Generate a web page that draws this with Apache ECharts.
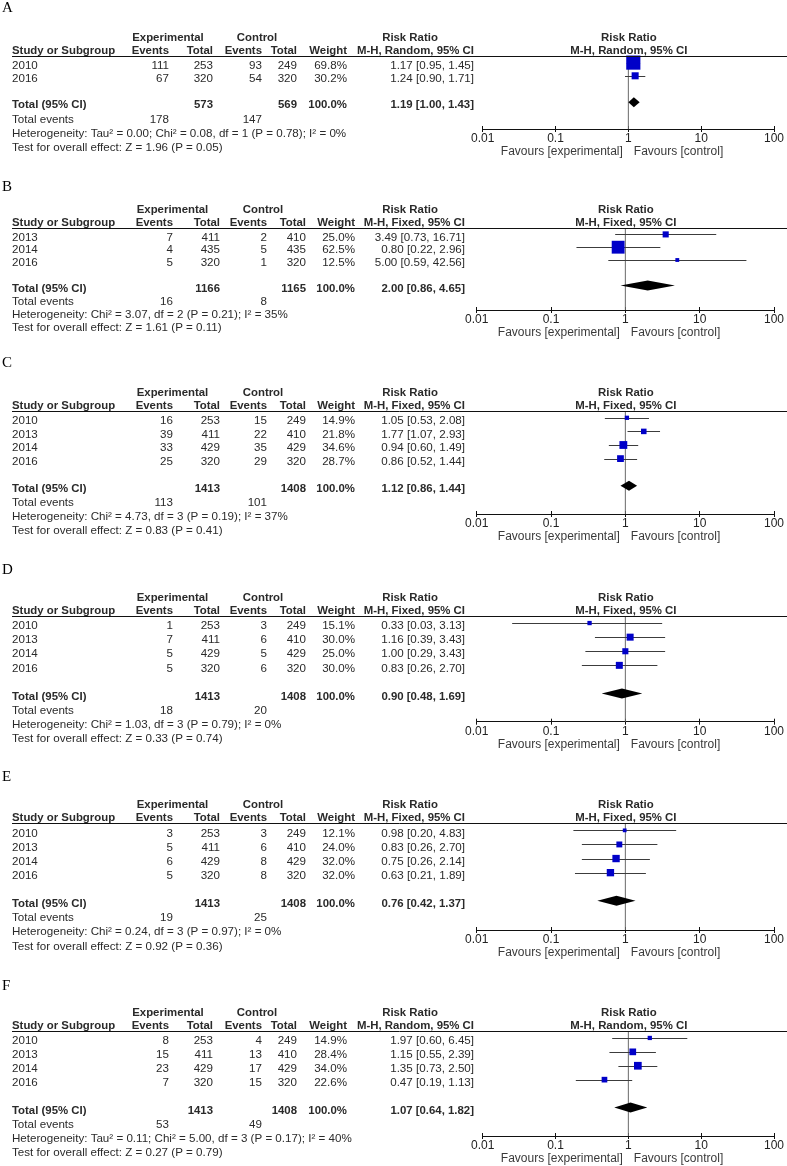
<!DOCTYPE html>
<html><head><meta charset="utf-8">
<style>html,body{margin:0;padding:0;background:#fff}#c{width:787px;height:1166px}</style>
<script src="https://cdn.jsdelivr.net/npm/echarts@6/dist/echarts.min.js"></script>
</head><body><div id="c"></div>
<script>
// ---------------- DATA ----------------
// Panel A (M-H, Random)
const yearsA = ['2010', '2016'];
const expEvA = [111, 67];
const expNA = [253, 320];
const ctlEvA = [93, 54];
const ctlNA = [249, 320];
const weightA = [69.8, 30.2];
const rrA = [1.17, 1.24];
const loA = [0.95, 0.90];
const hiA = [1.45, 1.71];
const totNA = [573, 569];
const totEvA = [178, 147];
const pooledA = [1.19, 1.00, 1.43];
const hetA = 'Heterogeneity: Tau² = 0.00; Chi² = 0.08, df = 1 (P = 0.78); I² = 0%';
const testA = 'Test for overall effect: Z = 1.96 (P = 0.05)';

// Panel B (M-H, Fixed)
const yearsB = ['2013', '2014', '2016'];
const expEvB = [7, 4, 5];
const expNB = [411, 435, 320];
const ctlEvB = [2, 5, 1];
const ctlNB = [410, 435, 320];
const weightB = [25.0, 62.5, 12.5];
const rrB = [3.49, 0.80, 5.00];
const loB = [0.73, 0.22, 0.59];
const hiB = [16.71, 2.96, 42.56];
const totNB = [1166, 1165];
const totEvB = [16, 8];
const pooledB = [2.00, 0.86, 4.65];
const hetB = 'Heterogeneity: Chi² = 3.07, df = 2 (P = 0.21); I² = 35%';
const testB = 'Test for overall effect: Z = 1.61 (P = 0.11)';

// Panel C (M-H, Fixed)
const yearsC = ['2010', '2013', '2014', '2016'];
const expEvC = [16, 39, 33, 25];
const expNC = [253, 411, 429, 320];
const ctlEvC = [15, 22, 35, 29];
const ctlNC = [249, 410, 429, 320];
const weightC = [14.9, 21.8, 34.6, 28.7];
const rrC = [1.05, 1.77, 0.94, 0.86];
const loC = [0.53, 1.07, 0.60, 0.52];
const hiC = [2.08, 2.93, 1.49, 1.44];
const totNC = [1413, 1408];
const totEvC = [113, 101];
const pooledC = [1.12, 0.86, 1.44];
const hetC = 'Heterogeneity: Chi² = 4.73, df = 3 (P = 0.19); I² = 37%';
const testC = 'Test for overall effect: Z = 0.83 (P = 0.41)';

// Panel D (M-H, Fixed)
const yearsD = ['2010', '2013', '2014', '2016'];
const expEvD = [1, 7, 5, 5];
const expND = [253, 411, 429, 320];
const ctlEvD = [3, 6, 5, 6];
const ctlND = [249, 410, 429, 320];
const weightD = [15.1, 30.0, 25.0, 30.0];
const rrD = [0.33, 1.16, 1.00, 0.83];
const loD = [0.03, 0.39, 0.29, 0.26];
const hiD = [3.13, 3.43, 3.43, 2.70];
const totND = [1413, 1408];
const totEvD = [18, 20];
const pooledD = [0.90, 0.48, 1.69];
const hetD = 'Heterogeneity: Chi² = 1.03, df = 3 (P = 0.79); I² = 0%';
const testD = 'Test for overall effect: Z = 0.33 (P = 0.74)';

// Panel E (M-H, Fixed)
const yearsE = ['2010', '2013', '2014', '2016'];
const expEvE = [3, 5, 6, 5];
const expNE = [253, 411, 429, 320];
const ctlEvE = [3, 6, 8, 8];
const ctlNE = [249, 410, 429, 320];
const weightE = [12.1, 24.0, 32.0, 32.0];
const rrE = [0.98, 0.83, 0.75, 0.63];
const loE = [0.20, 0.26, 0.26, 0.21];
const hiE = [4.83, 2.70, 2.14, 1.89];
const totNE = [1413, 1408];
const totEvE = [19, 25];
const pooledE = [0.76, 0.42, 1.37];
const hetE = 'Heterogeneity: Chi² = 0.24, df = 3 (P = 0.97); I² = 0%';
const testE = 'Test for overall effect: Z = 0.92 (P = 0.36)';

// Panel F (M-H, Random)
const yearsF = ['2010', '2013', '2014', '2016'];
const expEvF = [8, 15, 23, 7];
const expNF = [253, 411, 429, 320];
const ctlEvF = [4, 13, 17, 15];
const ctlNF = [249, 410, 429, 320];
const weightF = [14.9, 28.4, 34.0, 22.6];
const rrF = [1.97, 1.15, 1.35, 0.47];
const loF = [0.60, 0.55, 0.73, 0.19];
const hiF = [6.45, 2.39, 2.50, 1.13];
const totNF = [1413, 1408];
const totEvF = [53, 49];
const pooledF = [1.07, 0.64, 1.82];
const hetF = 'Heterogeneity: Tau² = 0.11; Chi² = 5.00, df = 3 (P = 0.17); I² = 40%';
const testF = 'Test for overall effect: Z = 0.27 (P = 0.79)';

const axisTicks = [0.01, 0.1, 1, 10, 100];
const headTexts = ['Study or Subgroup', 'Experimental', 'Control', 'Events', 'Total', 'Weight', 'Risk Ratio', 'Total (95% CI)', 'Total events', '100.0%'];
const favourTexts = ['Favours [experimental]', 'Favours [control]'];
const methodTexts = {random: 'M-H, Random, 95% CI', fixed: 'M-H, Fixed, 95% CI'};

// ---------------- LAYOUT ----------------
const LAY = {
  random: {ev:169, tot:213, cev:262, ctot:297, wt:347, rr:474, expC:168, ctlC:257, rrC:410, plotL:482.7, plotR:775},
  fixed:  {ev:173, tot:220, cev:267, ctot:306, wt:355, rr:465, expC:172.5, ctlC:263, rrC:410, plotL:476.7, plotR:775}
};
const panels = [
  {id:'A', kind:'random', letterY:8,   top:56,   rowH:13.2, axisY:129,  footH:14.2,
   d:[yearsA, expEvA, expNA, ctlEvA, ctlNA, weightA, rrA, loA, hiA, totNA, totEvA, pooledA, hetA, testA]},
  {id:'B', kind:'fixed',  letterY:187, top:228,  rowH:12.8, axisY:310,  footH:13.0,
   d:[yearsB, expEvB, expNB, ctlEvB, ctlNB, weightB, rrB, loB, hiB, totNB, totEvB, pooledB, hetB, testB]},
  {id:'C', kind:'fixed',  letterY:363, top:411,  rowH:13.6, axisY:514,  footH:14.1,
   d:[yearsC, expEvC, expNC, ctlEvC, ctlNC, weightC, rrC, loC, hiC, totNC, totEvC, pooledC, hetC, testC]},
  {id:'D', kind:'fixed',  letterY:570, top:616,  rowH:14.1, axisY:721.7,footH:14.2,
   d:[yearsD, expEvD, expND, ctlEvD, ctlND, weightD, rrD, loD, hiD, totND, totEvD, pooledD, hetD, testD]},
  {id:'E', kind:'fixed',  letterY:777, top:823.3,rowH:14.1, axisY:930,  footH:14.2,
   d:[yearsE, expEvE, expNE, ctlEvE, ctlNE, weightE, rrE, loE, hiE, totNE, totEvE, pooledE, hetE, testE]},
  {id:'F', kind:'random', letterY:986, top:1031, rowH:13.9, axisY:1136, footH:14.1,
   d:[yearsF, expEvF, expNF, ctlEvF, ctlNF, weightF, rrF, loF, hiF, totNF, totEvF, pooledF, hetF, testF]}
];

const FONT = '"Liberation Sans", Arial, Helvetica, sans-serif';
const SERIF = '"Liberation Serif", "Times New Roman", serif';
const TXT = '#2a2a2a';
const REG = 11.6, BOLD = 11.4, AX = 12;
const f2 = v => v.toFixed(2);
const ciStr = (r, l, h) => f2(r) + ' [' + f2(l) + ', ' + f2(h) + ']';

function T(x, y, s, align, bold, size, family, color) {
  return {type:'text', x:x, y:y, silent:true, z:10,
    style:{text:String(s), font:(bold ? 'bold ' : '') + (size || (bold ? BOLD : REG)) + 'px ' + (family || FONT),
      fill:color || TXT, align:align || 'left', textAlign:align || 'left',
      verticalAlign:'middle', textVerticalAlign:'middle'}};
}

const graphics = [];
const grids = [], xAxes = [], yAxes = [], series = [];

panels.forEach((p, k) => {
  const L = LAY[p.kind];
  const [years, expEv, expN, ctlEv, ctlN, weight, rr, lo, hi, totN, totEv, pooled, het, test] = p.d;
  const n = years.length;
  const method = methodTexts[p.kind];
  const mid = (L.plotL + L.plotR) / 2;
  const h1 = p.top - 18.5, h2 = p.top - 5;
  const ty = i => p.top + (i + 0.5) * p.rowH + 3;

  // panel letter
  graphics.push(T(2, p.letterY, p.id, 'left', false, 15, SERIF, '#000'));
  // headers
  graphics.push(T(L.expC, h1, headTexts[1], 'center', true));
  graphics.push(T(L.ctlC, h1, headTexts[2], 'center', true));
  graphics.push(T(L.rrC, h1, headTexts[6], 'center', true));
  graphics.push(T(mid, h1, headTexts[6], 'center', true));
  graphics.push(T(12, h2, headTexts[0], 'left', true));
  graphics.push(T(L.ev, h2, headTexts[3], 'right', true));
  graphics.push(T(L.tot, h2, headTexts[4], 'right', true));
  graphics.push(T(L.cev, h2, headTexts[3], 'right', true));
  graphics.push(T(L.ctot, h2, headTexts[4], 'right', true));
  graphics.push(T(L.wt, h2, headTexts[5], 'right', true));
  graphics.push(T(L.rr, h2, method, 'right', true));
  graphics.push(T(mid, h2, method, 'center', true));
  graphics.push({type:'line', silent:true, z:5,
    shape:{x1:12, y1:Math.round(p.top) + 0.5, x2:787, y2:Math.round(p.top) + 0.5},
    style:{stroke:'#111', lineWidth:1}});

  // study rows
  for (let i = 0; i < n; i++) {
    const y = ty(i);
    graphics.push(T(12, y, years[i], 'left'));
    graphics.push(T(L.ev, y, expEv[i], 'right'));
    graphics.push(T(L.tot, y, expN[i], 'right'));
    graphics.push(T(L.cev, y, ctlEv[i], 'right'));
    graphics.push(T(L.ctot, y, ctlN[i], 'right'));
    graphics.push(T(L.wt, y, weight[i].toFixed(1) + '%', 'right'));
    graphics.push(T(L.rr, y, ciStr(rr[i], lo[i], hi[i]), 'right'));
  }
  // total row
  const yt = ty(n + 1);
  graphics.push(T(12, yt, headTexts[7], 'left', true));
  graphics.push(T(L.tot, yt, totN[0], 'right', true));
  graphics.push(T(L.ctot, yt, totN[1], 'right', true));
  graphics.push(T(L.wt, yt, headTexts[9], 'right', true));
  graphics.push(T(L.rr, yt, ciStr(pooled[0], pooled[1], pooled[2]), 'right', true));
  graphics.push(T(12, yt + p.footH, headTexts[8], 'left'));
  graphics.push(T(L.ev, yt + p.footH, totEv[0], 'right'));
  graphics.push(T(L.cev, yt + p.footH, totEv[1], 'right'));
  graphics.push(T(12, yt + 2 * p.footH, het, 'left'));
  graphics.push(T(12, yt + 3 * p.footH, test, 'left'));
  // favours
  graphics.push(T(mid - 6, p.axisY + 23, favourTexts[0], 'right', false, AX, FONT, '#3a3a3a'));
  graphics.push(T(mid + 5, p.axisY + 23, favourTexts[1], 'left', false, AX, FONT, '#3a3a3a'));

  // plot
  const ymax = (p.axisY - p.top) / p.rowH;
  grids.push({left:L.plotL, width:L.plotR - L.plotL, top:p.top, height:p.axisY - p.top, containLabel:false});
  const baseX = {gridIndex:k, type:'log', logBase:10, min:axisTicks[0], max:axisTicks[axisTicks.length - 1],
    position:'bottom', splitLine:{show:false}, minorTick:{show:false}};
  xAxes.push(Object.assign({}, baseX, {
    axisLine:{show:true, onZero:false, lineStyle:{color:'#111', width:1}},
    axisTick:{show:true, inside:false, length:3, lineStyle:{color:'#111', width:1}},
    axisLabel:{show:true, margin:4, color:'#222', fontSize:AX, fontFamily:FONT,
      formatter: v => String(parseFloat(Number(v).toPrecision(2)))}
  }));
  xAxes.push(Object.assign({}, baseX, {
    axisLine:{show:false, onZero:false},
    axisTick:{show:true, inside:true, length:3, lineStyle:{color:'#111', width:1}},
    axisLabel:{show:false}
  }));
  yAxes.push({gridIndex:k, type:'value', min:0, max:ymax, inverse:true, show:false});

  // reference line at RR = 1
  series.push({type:'line', xAxisIndex:2 * k, yAxisIndex:k, data:[[1, 0], [1, ymax]],
    symbol:'none', silent:true, z:1, lineStyle:{color:'#6a6a6a', width:1}});

  // study estimates
  series.push({type:'custom', xAxisIndex:2 * k, yAxisIndex:k, z:3, clip:false,
    data: years.map((yr, i) => [rr[i], lo[i], hi[i], i + 0.5, weight[i]]),
    encode:{x:[0, 1, 2], y:3},
    renderItem: (params, api) => {
      const c = api.coord([api.value(0), api.value(3)]);
      const l = api.coord([api.value(1), api.value(3)]);
      const h = api.coord([api.value(2), api.value(3)]);
      const s = 1.6 + 0.18 * api.value(4);
      const yy = Math.round(c[1]) + 0.5;
      return {type:'group', children:[
        {type:'line', shape:{x1:l[0], y1:yy, x2:h[0], y2:yy}, style:{stroke:'#3c3c3c', lineWidth:1}},
        {type:'rect', shape:{x:c[0] - s / 2, y:c[1] - s / 2, width:s, height:s}, style:{fill:'#0000c8'}}
      ]};
    }});

  // pooled diamond
  series.push({type:'custom', xAxisIndex:2 * k, yAxisIndex:k, z:4, clip:false,
    data:[[pooled[0], pooled[1], pooled[2], n + 1.5]],
    encode:{x:[0, 1, 2], y:3},
    renderItem: (params, api) => {
      const c = api.coord([api.value(0), api.value(3)]);
      const l = api.coord([api.value(1), api.value(3)]);
      const h = api.coord([api.value(2), api.value(3)]);
      return {type:'polygon', shape:{points:[[l[0], c[1]], [c[0], c[1] - 5], [h[0], c[1]], [c[0], c[1] + 5]]},
        style:{fill:'#000'}};
    }});
});

const chart = echarts.init(document.getElementById('c'), null, {renderer:'canvas'});
chart.setOption({
  animation:false,
  backgroundColor:'#ffffff',
  grid:grids, xAxis:xAxes, yAxis:yAxes, series:series,
  graphic:{elements:graphics}
});
</script></body></html>
